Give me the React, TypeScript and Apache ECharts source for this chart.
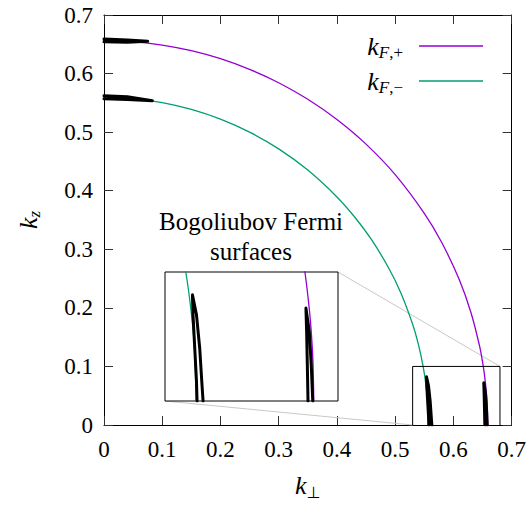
import React, { useEffect, useRef } from "react";
import * as echarts from "echarts";

// ---- data ----
const xTickLabels = ["0", "0.1", "0.2", "0.3", "0.4", "0.5", "0.6", "0.7"];
const yTickLabels = ["0", "0.1", "0.2", "0.3", "0.4", "0.5", "0.6", "0.7"];

// Fermi surface k_{F,+} (purple)
const purpleCurve: [number, number][] = [
  [0, 0.6563], [0.05, 0.6544], [0.1, 0.6487], [0.15, 0.6391], [0.2, 0.6254],
  [0.25, 0.6072], [0.3, 0.5844], [0.35, 0.5561], [0.4, 0.5216], [0.45, 0.4795],
  [0.5, 0.4275], [0.55, 0.3615], [0.58, 0.3116], [0.61, 0.2484], [0.63, 0.1926],
  [0.645, 0.1345], [0.6513, 0.1], [0.655, 0.0722], [0.6571, 0.05], [0.6583, 0.03],
  [0.659, 0],
];
// Fermi surface k_{F,-} (green)
const greenCurve: [number, number][] = [
  [0, 0.5595], [0.05, 0.5572], [0.1, 0.5504], [0.15, 0.5388], [0.2, 0.5222],
  [0.25, 0.5], [0.3, 0.4714], [0.35, 0.4352], [0.4, 0.3894], [0.43, 0.3556],
  [0.46, 0.3155], [0.49, 0.266], [0.51, 0.225], [0.53, 0.1721], [0.54, 0.1372],
  [0.548, 0.1], [0.5526, 0.07], [0.5556, 0.04], [0.557, 0],
];
// Bogoliubov Fermi surfaces (thin closed loops)
const purpleTopLoop: [number, number][] = [
  [0, 0.659], [0.04, 0.6575], [0.075, 0.655], [0.04, 0.6535], [0, 0.6543],
];
const greenTopLoop: [number, number][] = [
  [0, 0.5622], [0.04, 0.5605], [0.083, 0.5535], [0.04, 0.5557], [0, 0.5568],
];
const greenBottomLoop: [number, number][] = [
  [0.5578, 0], [0.5573, 0.015], [0.5558, 0.0409], [0.5543, 0.0668], [0.5538, 0.0824],
  [0.5573, 0.0668], [0.5601, 0.0409], [0.5619, 0.015], [0.563, 0],
];
const purpleBottomLoop: [number, number][] = [
  [0.654, 0], [0.6534, 0.028], [0.6528, 0.0539], [0.6522, 0.072],
  [0.6551, 0.0539], [0.6568, 0.028], [0.6581, 0],
];
// zoomed region shown in the inset
const zoomX = [0.53, 0.68];
const zoomY = [0, 0.1];

const FONT = "Liberation Serif";
const PURPLE = "#9400d3";
const GREEN = "#009e73";

export default function App() {
  const ref = useRef<HTMLDivElement>(null);
  useEffect(() => {
    if (!ref.current) return;
    const chart = echarts.init(ref.current, undefined, { renderer: "svg" });

    const tickLabel = (labels: string[]) => (v: number) => labels[Math.round(v * 10)] ?? "";
    const mainAxisCommon = {
      type: "value" as const,
      min: 0,
      max: 0.7,
      interval: 0.1,
      gridIndex: 0,
      splitLine: { show: false },
      axisLine: { show: true, onZero: false, lineStyle: { color: "#000", width: 1 } },
      axisTick: { show: true, inside: true, length: 9, lineStyle: { color: "#333", width: 1 } },
    };
    const insetAxis = {
      type: "value" as const,
      gridIndex: 1,
      show: false,
      splitLine: { show: false },
    };

    const box: [number, number][] = [
      [zoomX[0], zoomY[0]], [zoomX[0], zoomY[1]], [zoomX[1], zoomY[1]], [zoomX[1], zoomY[0]],
    ];

    const lineSeries = (name: string, data: [number, number][], color: string, width: number, idx: number, z: number, smooth: boolean | number) => ({
      type: "line",
      name,
      data,
      xAxisIndex: idx === 0 ? 0 : 2,
      yAxisIndex: idx === 0 ? 0 : 2,
      symbol: "none",
      showSymbol: false,
      smooth,
      clip: true,
      z,
      lineStyle: { color, width, join: "round", cap: "round" },
      itemStyle: { color },
      emphasis: { disabled: true },
    });

    chart.setOption({
      animation: false,
      textStyle: { fontFamily: FONT },
      grid: [
        { left: 104, top: 15, width: 410, height: 410, show: false },
        { left: 165, top: 272, width: 173, height: 129, show: true, borderColor: "#000", borderWidth: 1, backgroundColor: "#fff", z: 3 },
      ],
      xAxis: [
        {
          ...mainAxisCommon,
          position: "bottom",
          axisLabel: { show: true, margin: 13, fontSize: 23, color: "#000", fontFamily: FONT, formatter: tickLabel(xTickLabels) },
          name: "{k|k}{s|⊥}",
          nameLocation: "middle",
          nameGap: 45,
          nameTextStyle: {
            rich: {
              k: { fontFamily: FONT, fontStyle: "italic", fontSize: 26, lineHeight: 30, color: "#000" },
              s: { fontFamily: "DejaVu Sans", fontSize: 16, lineHeight: 16, verticalAlign: "bottom", color: "#000" },
            },
          },
        },
        { ...mainAxisCommon, position: "top", axisLabel: { show: false } },
        { ...insetAxis, min: zoomX[0], max: zoomX[1] },
      ],
      yAxis: [
        {
          ...mainAxisCommon,
          position: "left",
          axisLabel: { show: true, margin: 11, fontSize: 23, color: "#000", fontFamily: FONT, formatter: tickLabel(yTickLabels) },
          name: "{k|k}{z|z}",
          nameLocation: "middle",
          nameRotate: 90,
          nameGap: 61,
          nameTextStyle: {
            rich: {
              k: { fontFamily: FONT, fontStyle: "italic", fontSize: 26, lineHeight: 30, color: "#000" },
              z: { fontFamily: FONT, fontStyle: "italic", fontSize: 17, lineHeight: 17, verticalAlign: "bottom", color: "#000" },
            },
          },
        },
        { ...mainAxisCommon, position: "right", axisLabel: { show: false } },
        { ...insetAxis, min: zoomY[0], max: zoomY[1] },
      ],
      legend: {
        data: ["kF+", "kF-"],
        orient: "vertical",
        right: 41,
        top: 28,
        align: "right",
        icon: "rect",
        itemWidth: 64,
        itemHeight: 1.5,
        itemGap: 7,
        selectedMode: false,
        formatter: (name: string) => (name === "kF+" ? "{k|k}{f|F}{s|,+}" : "{k|k}{f|F}{s|,−}"),
        textStyle: {
          rich: {
            k: { fontFamily: FONT, fontStyle: "italic", fontSize: 26, lineHeight: 30, color: "#000" },
            f: { fontFamily: FONT, fontStyle: "italic", fontSize: 17, lineHeight: 17, verticalAlign: "bottom", color: "#000" },
            s: { fontFamily: FONT, fontSize: 17, lineHeight: 17, verticalAlign: "bottom", color: "#000", padding: [0, 11, 0, 0] },
          },
        },
      },
      series: [
        lineSeries("kF+", purpleCurve, PURPLE, 1.3, 0, 2, 0.3),
        lineSeries("kF-", greenCurve, GREEN, 1.3, 0, 2, 0.3),
        lineSeries("purpleTop", purpleTopLoop, "#000", 3, 0, 4, false),
        lineSeries("greenTop", greenTopLoop, "#000", 3, 0, 4, false),
        lineSeries("purpleBottom", purpleBottomLoop, "#000", 3, 0, 4, false),
        lineSeries("greenBottom", greenBottomLoop, "#000", 3, 0, 4, false),
        lineSeries("zoomBox", box, "#000", 1, 0, 4, false),
        lineSeries("kF+ inset", purpleCurve, PURPLE, 1.3, 1, 5, 0.3),
        lineSeries("kF- inset", greenCurve, GREEN, 1.3, 1, 5, 0.3),
        lineSeries("purpleBottom inset", purpleBottomLoop, "#000", 3, 1, 6, false),
        lineSeries("greenBottom inset", greenBottomLoop, "#000", 3, 1, 6, false),
      ],
    });

    const pInsetTR = chart.convertToPixel({ xAxisIndex: 2, yAxisIndex: 2 }, [zoomX[1], zoomY[1]]);
    const pMainTR = chart.convertToPixel({ xAxisIndex: 0, yAxisIndex: 0 }, [zoomX[1], zoomY[1]]);
    const pInsetBL = chart.convertToPixel({ xAxisIndex: 2, yAxisIndex: 2 }, [zoomX[0], zoomY[0]]);
    const pMainBL = chart.convertToPixel({ xAxisIndex: 0, yAxisIndex: 0 }, [zoomX[0], zoomY[0]]);

    chart.setOption({
      graphic: [
        {
          type: "line",
          z: 1,
          shape: { x1: pInsetTR[0], y1: pInsetTR[1], x2: pMainTR[0], y2: pMainTR[1] },
          style: { stroke: "#c8c8c8", lineWidth: 1 },
          silent: true,
        },
        {
          type: "line",
          z: 1,
          shape: { x1: pInsetBL[0], y1: pInsetBL[1], x2: pMainBL[0], y2: pMainBL[1] },
          style: { stroke: "#c8c8c8", lineWidth: 1 },
          silent: true,
        },
        {
          type: "text",
          z: 10,
          x: 251,
          y: 206,
          style: {
            text: "Bogoliubov Fermi\nsurfaces",
            fontFamily: FONT,
            fontSize: 25,
            lineHeight: 30,
            fill: "#000",
            align: "center",
            verticalAlign: "top",
          },
          silent: true,
        },
      ],
    });

    return () => chart.dispose();
  }, []);

  return (
    <div
      ref={ref}
      style={{ position: "absolute", left: 0, top: 0, width: 529, height: 509, background: "#fff" }}
    />
  );
}
